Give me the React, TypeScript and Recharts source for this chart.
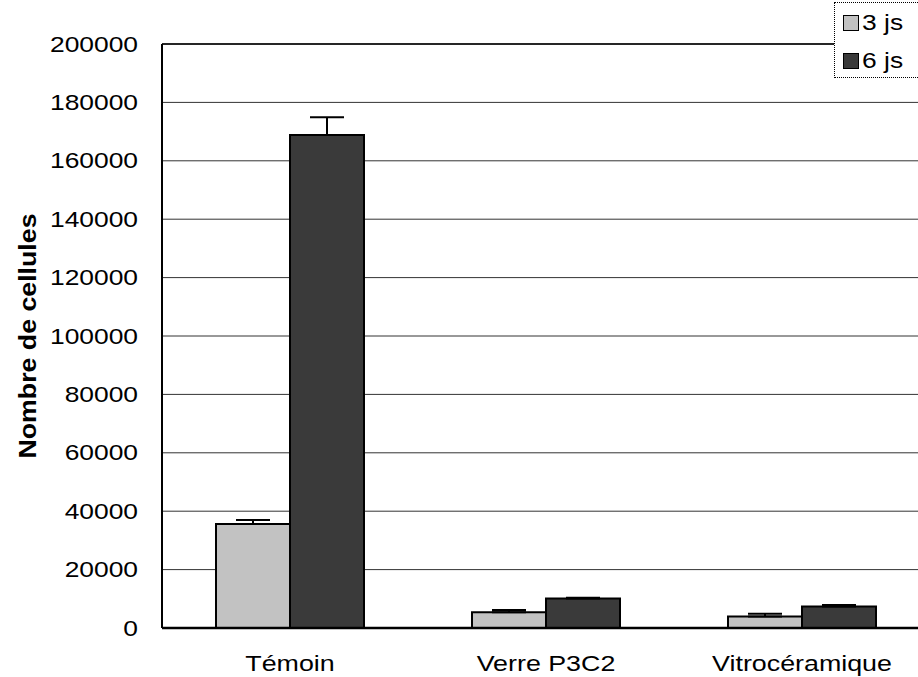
import { BarChart, Bar, XAxis, YAxis, CartesianGrid, ErrorBar, ReferenceLine } from 'recharts';

const categories = ['Témoin', 'Verre P3C2', 'Vitrocéramique'];
const seriesNames = ['3 js', '6 js'];
const values3js = [35600, 5400, 3900];
const values6js = [168800, 10100, 7400];
const err3js = [1400, 800, 1000];
const err6js = [6100, 300, 500];
const yTicks = [0, 20000, 40000, 60000, 80000, 100000, 120000, 140000, 160000, 180000, 200000];

const colors = ['#c2c2c2', '#3a3a3a'];
const font = '"Liberation Sans", Arial, sans-serif';

const data = categories.map((name, i) => ({
  name,
  js3: values3js[i],
  js6: values6js[i],
  e3: [0, err3js[i]],
  e6: [0, err6js[i]],
}));

const YTick = ({ x, y, payload }: any) => (
  <g transform={`translate(${x},${y})`}>
    <text transform="scale(1.2,1)" textAnchor="end" dominantBaseline="central" fontSize={22} fontFamily={font} fill="#000">
      {payload.value}
    </text>
  </g>
);

const XTick = ({ x, y, payload }: any) => (
  <g transform={`translate(${x},${y})`}>
    <text transform="scale(1.22,1)" textAnchor="middle" dy="0.71em" fontSize={22} fontFamily={font} fill="#000">
      {payload.value}
    </text>
  </g>
);

const YLabel = ({ viewBox }: any) => {
  const cx = 27;
  const cy = viewBox.y + viewBox.height / 2;
  return (
    <text
      x={cx}
      y={cy}
      transform={`rotate(-90, ${cx}, ${cy})`}
      textAnchor="middle"
      dominantBaseline="central"
      fontSize={24}
      fontWeight="bold"
      fontFamily={font}
      textLength={245}
      lengthAdjust="spacingAndGlyphs"
      fill="#000"
    >
      Nombre de cellules
    </text>
  );
};

export default function App() {
  return (
    <div style={{ position: 'fixed', left: 0, top: 0, width: 918, height: 677, overflow: 'hidden', background: '#fff' }}>
      <BarChart
        width={930}
        height={677}
        data={data}
        margin={{ top: 44, right: 0, left: 0, bottom: 0 }}
        barCategoryGap={54}
        barGap={0}
      >
        <CartesianGrid vertical={false} stroke="#333" strokeWidth={1} />
        <XAxis
          dataKey="name"
          height={49}
          tick={<XTick />}
          tickLine={false}
          tickMargin={21}
          axisLine={{ stroke: '#000', strokeWidth: 2.5 }}
        />
        <YAxis
          width={162}
          domain={[0, 200000]}
          ticks={yTicks}
          interval={0}
          tick={<YTick />}
          tickLine={false}
          tickMargin={18}
          axisLine={{ stroke: '#000', strokeWidth: 2 }}
          label={<YLabel />}
        />
        <ReferenceLine y={200000} stroke="#000" strokeWidth={1.5} />
        <Bar dataKey="js3" name={seriesNames[0]} fill={colors[0]} stroke="#000" strokeWidth={2} isAnimationActive={false}>
          <ErrorBar dataKey="e3" width={17} stroke="#000" strokeWidth={2} direction="y" />
        </Bar>
        <Bar dataKey="js6" name={seriesNames[1]} fill={colors[1]} stroke="#000" strokeWidth={2} isAnimationActive={false}>
          <ErrorBar dataKey="e6" width={17} stroke="#000" strokeWidth={2} direction="y" />
        </Bar>
      </BarChart>
      <div
        style={{
          position: 'absolute',
          left: 834,
          top: 2,
          width: 120,
          height: 76,
          background: '#fff',
          border: '1.5px dotted #000',
          fontFamily: font,
          fontSize: 22,
          boxSizing: 'border-box',
        }}
      >
        {seriesNames.map((s, i) => (
          <div key={s} style={{ position: 'absolute', left: 8, top: 9 + i * 38, display: 'flex', alignItems: 'center', height: 22 }}>
            <span style={{ display: 'inline-block', width: 14, height: 14, background: colors[i], border: '1px solid #000', marginRight: 3 }} />
            <span style={{ display: 'inline-block', transform: 'scaleX(1.2)', transformOrigin: 'left center' }}>{s}</span>
          </div>
        ))}
      </div>
    </div>
  );
}
